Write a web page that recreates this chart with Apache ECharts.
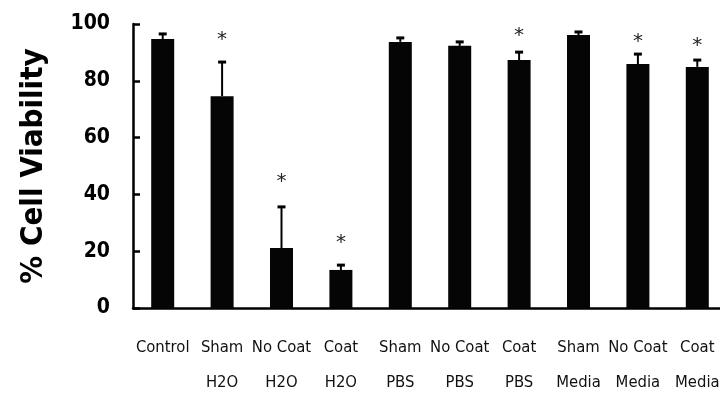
<!DOCTYPE html>
<html>
<head>
<meta charset="utf-8">
<script src="https://cdn.jsdelivr.net/npm/echarts@6/dist/echarts.min.js"></script>
<style>
  html, body { margin: 0; padding: 0; background: #fff; }
  #chart { width: 720px; height: 396px; }
</style>
</head>
<body>
<div id="chart"></div>
<script>
// groups on the x axis (two text lines each)
var categories = ['Control', 'Sham\nH2O', 'No Coat\nH2O', 'Coat\nH2O', 'Sham\nPBS',
    'No Coat\nPBS', 'Coat\nPBS', 'Sham\nMedia', 'No Coat\nMedia', 'Coat\nMedia'];
// mean % viability
var viability = [94.7, 74.6, 21.1, 13.4, 93.7, 92.3, 87.3, 96.1, 85.9, 84.9];
// top of the error bar (mean + SD)
var errTop = [96.5, 86.6, 35.6, 15.1, 95.1, 93.7, 90.1, 97.2, 89.4, 87.3];
// where the significance star sits, null = no star
var starAt = [null, 95.8, 45.8, 24.3, null, null, 97.2, null, 95.1, 93.7];
var yTicks = [0, 20, 40, 60, 80, 100];

var narrow = "'DejaVu Sans Condensed', 'DejaVu Sans', sans-serif";

var chart = echarts.init(document.getElementById('chart'));

var option = {
    animation: false,
    grid: { left: 133, right: -7, top: 24, bottom: 88, containLabel: false, outerBoundsMode: 'none' },
    xAxis: {
        type: 'category',
        data: categories,
        axisLine: { lineStyle: { color: '#000', width: 2.5 } },
        axisTick: { show: false },
        axisLabel: {
            interval: 0,
            hideOverlap: false,
            margin: 22,
            color: '#111',
            fontFamily: narrow,
            fontSize: 16.5,
            lineHeight: 35
        }
    },
    yAxis: {
        type: 'value',
        min: yTicks[0],
        max: yTicks[yTicks.length - 1],
        interval: 20,
        name: '% Cell Viability',
        nameLocation: 'middle',
        nameRotate: 90,
        nameGap: 84,
        nameTextStyle: {
            color: '#000',
            fontFamily: narrow,
            fontWeight: 'bold',
            fontSize: 31
        },
        splitLine: { show: false },
        axisLine: { show: true, lineStyle: { color: '#000', width: 2.5 } },
        axisTick: { show: true, inside: true, length: 7, lineStyle: { color: '#000', width: 2.5 } },
        axisLabel: {
            margin: 23,
            color: '#000',
            fontFamily: narrow,
            fontWeight: 'bold',
            fontSize: 21
        }
    },
    series: [
        {
            type: 'bar',
            data: viability,
            barWidth: 23,
            itemStyle: { color: '#050505' }
        },
        {
            // error bars: line from bar top up to errTop with a cap
            type: 'custom',
            data: errTop.map(function (v, i) { return [i, viability[i], v]; }),
            z: 3,
            renderItem: function (params, api) {
                var lo = api.coord([api.value(0), api.value(1)]);
                var hi = api.coord([api.value(0), api.value(2)]);
                var cap = 4;
                return {
                    type: 'group',
                    children: [
                        {
                            type: 'line',
                            shape: { x1: lo[0], y1: lo[1], x2: hi[0], y2: hi[1] },
                            style: { stroke: '#000', lineWidth: 2 }
                        },
                        {
                            type: 'line',
                            shape: { x1: hi[0] - cap, y1: hi[1], x2: hi[0] + cap, y2: hi[1] },
                            style: { stroke: '#000', lineWidth: 3 }
                        }
                    ]
                };
            }
        },
        {
            // significance stars
            type: 'custom',
            data: starAt.map(function (v, i) { return v == null ? null : [i, v]; })
                .filter(function (d) { return d; }),
            renderItem: function (params, api) {
                var p = api.coord([api.value(0), api.value(1)]);
                return {
                    type: 'text',
                    style: {
                        x: p[0], y: p[1] + 4,
                        text: '*',
                        fill: '#222',
                        font: '20px DejaVu Sans',
                        align: 'center',
                        verticalAlign: 'middle'
                    }
                };
            }
        }
    ]
};

chart.setOption(option);
</script>
</body>
</html>
